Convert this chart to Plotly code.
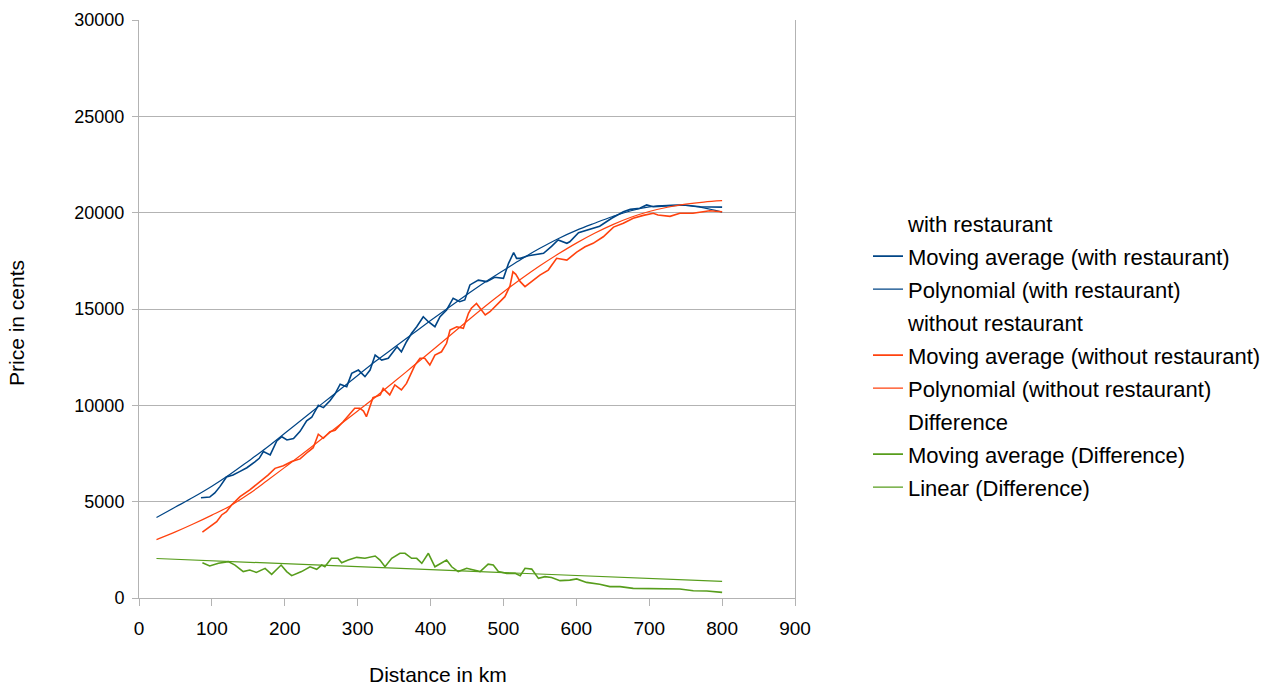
import plotly.graph_objects as go

BLUE = "#004586"
RED = "#ff420e"
GREEN = "#579d1c"

# ---- Moving average (with restaurant) ----
ma_with_km = [85, 97, 104, 111, 120, 129, 138, 148, 159, 165, 170.6, 175, 180, 189, 196, 203, 212, 221, 230,
              237, 246, 253, 262, 269, 276, 285, 291.8, 301, 310, 317, 324, 333, 342, 354, 360, 367, 374,
              381, 390, 397, 406, 413, 422, 431, 440, 447, 454, 465.5, 477, 488, 500, 507, 514, 518, 523,
              534, 541, 555, 566, 575, 587, 591, 603, 619, 632, 648.5, 664.5, 674, 687, 696.5, 705.6,
              724, 747, 770, 800]
ma_with_val = [5200, 5240, 5450, 5780, 6280, 6380, 6560, 6760, 7060, 7250, 7600, 7510, 7430, 8150, 8370,
               8200, 8280, 8650, 9200, 9380, 10000, 9880, 10240, 10600, 11100, 10970, 11660, 11830, 11490,
               11830, 12610, 12350, 12440, 13040, 12780, 13300, 13740, 14080, 14600, 14340, 14080, 14600,
               14950, 15560, 15380, 15470, 16250, 16500, 16420, 16650, 16590, 17370, 17930, 17630, 17630,
               17760, 17800, 17890, 18250, 18580, 18410, 18490, 18960, 19140, 19300, 19710, 20050, 20170,
               20230, 20400, 20310, 20350, 20400, 20310, 20290]

# ---- Polynomial (with restaurant) ----
poly_with_km = [24, 50, 75, 100, 125, 150, 175, 200, 225, 250, 275, 300, 325, 350, 375, 400, 425, 450,
                475, 500, 525, 550, 575, 600, 625, 650, 675, 700, 725, 750, 775, 800]
poly_with_val = [4180, 4720, 5240, 5800, 6420, 7100, 7800, 8550, 9300, 10050, 10800, 11550, 12300, 13000,
                 13700, 14400, 15080, 15750, 16400, 17000, 17600, 18150, 18650, 19080, 19450, 19800, 20100,
                 20300, 20380, 20380, 20250, 20030]

# ---- Moving average (without restaurant) ----
ma_without_km = [87, 99.7, 106.6, 113.4, 120, 127, 138.6, 152, 166, 177, 186.6, 198, 209.5, 221, 232, 239,
                 246, 253, 262, 269, 280, 289.5, 296, 303, 308, 312, 321, 331, 335, 344, 351, 360, 367,
                 378.6, 385.5, 392, 399, 406, 415, 422, 426.7, 436, 445, 452, 456, 463, 468, 475, 481.5,
                 493, 502, 509, 513, 517, 523, 529.6, 539, 550, 561.5, 573, 587, 600.5, 612, 623, 637, 651,
                 664.5, 678, 692, 705.6, 712, 728.5, 742, 760, 783, 800]
ma_without_val = [3420, 3790, 3960, 4310, 4480, 4830, 5260, 5610, 6040, 6380, 6730, 6860, 7080, 7220, 7590,
                  7800, 8500, 8290, 8630, 8700, 9150, 9600, 9850, 9850, 9700, 9410, 10400, 10540, 10880,
                  10540, 11060, 10800, 11140, 12090, 12440, 12440, 12090, 12610, 12780, 13220, 13910, 14080,
                  14000, 14780, 15040, 15290, 15040, 14690, 14860, 15290, 15640, 16200, 16930, 16800, 16420,
                  16160, 16420, 16760, 17020, 17630, 17540, 17950, 18230, 18410, 18750, 19250, 19450, 19710,
                  19860, 19970, 19880, 19810, 19970, 19970, 20100, 20050]

# ---- Polynomial (without restaurant) ----
poly_without_km = [24, 50, 75, 100, 125, 150, 175, 200, 225, 250, 275, 300, 325, 350, 375, 400, 425, 450,
                   475, 500, 525, 550, 575, 600, 625, 650, 675, 700, 725, 750, 775, 800]
poly_without_val = [3030, 3430, 3850, 4300, 4780, 5380, 6070, 6780, 7500, 8240, 8980, 9710, 10450, 11220,
                    12000, 12780, 13570, 14360, 15140, 15880, 16580, 17240, 17850, 18420, 18930, 19380,
                    19760, 20060, 20280, 20440, 20550, 20620]

# ---- Moving average (Difference) ----
ma_diff_km = [87, 97, 109, 122.5, 131.7, 143, 152, 161, 173, 182, 195, 202.6, 209.5, 223, 234.6, 243.8,
              250.6, 255, 264, 273, 278, 287, 298.7, 310, 324, 330.6, 337.5, 346.7, 358, 365, 374, 381, 388,
              397, 406, 415, 422, 429, 438, 449.6, 458.6, 468, 479, 486, 493, 504.5, 516, 523, 529.6,
              538.8, 548, 557, 566, 577.6, 591, 600.5, 614, 632, 646, 660, 678, 696.5, 715, 726, 742,
              760.5, 779, 800]
ma_diff_val = [1830, 1660, 1800, 1890, 1710, 1370, 1450, 1330, 1540, 1230, 1710, 1370, 1160, 1370, 1620,
               1490, 1710, 1620, 2060, 2060, 1830, 1970, 2110, 2060, 2180, 1970, 1620, 2060, 2320, 2320,
               2060, 2060, 1800, 2320, 1620, 1800, 1970, 1620, 1370, 1540, 1450, 1370, 1760, 1710, 1370,
               1280, 1280, 1160, 1540, 1500, 1020, 1110, 1060, 900, 930, 990, 810, 710, 590, 590, 500, 500,
               470, 500, 470, 380, 360, 290]

# ---- Linear (Difference) ----
lin_diff_km = [24, 800]
lin_diff_val = [2050, 860]

FONT = "Liberation Sans, Arial, sans-serif"

# page geometry (pixels)
W, H = 1281, 686
ML, MT, MB, MR = 139, 20, 88, 0
PLOT_RIGHT = 795
PW = W - ML - MR
PH = H - MT - MB


def px_x(p):
    return (p - ML) / PW


def px_y(p):
    return (H - MB - p) / PH


fig = go.Figure()


def header(name, grp):
    fig.add_trace(go.Scatter(x=[None], y=[None], mode="lines", name=name, legendgroup=grp,
                             line=dict(color="rgba(0,0,0,0)", width=0), hoverinfo="skip"))


header("with restaurant", "g1")
fig.add_trace(go.Scatter(x=ma_with_km, y=ma_with_val, mode="lines", name="Moving average (with restaurant)",
                         legendgroup="g2", line=dict(color=BLUE, width=1.6)))
fig.add_trace(go.Scatter(x=poly_with_km, y=poly_with_val, mode="lines", name="Polynomial (with restaurant)",
                         legendgroup="g3", line=dict(color=BLUE, width=1.2, shape="spline")))
header("without restaurant", "g4")
fig.add_trace(go.Scatter(x=ma_without_km, y=ma_without_val, mode="lines",
                         name="Moving average (without restaurant)", legendgroup="g5",
                         line=dict(color=RED, width=1.6)))
fig.add_trace(go.Scatter(x=poly_without_km, y=poly_without_val, mode="lines",
                         name="Polynomial (without restaurant)", legendgroup="g6",
                         line=dict(color=RED, width=1.2, shape="spline")))
header("Difference", "g7")
fig.add_trace(go.Scatter(x=ma_diff_km, y=ma_diff_val, mode="lines", name="Moving average (Difference)",
                         legendgroup="g8", line=dict(color=GREEN, width=1.6)))
fig.add_trace(go.Scatter(x=lin_diff_km, y=lin_diff_val, mode="lines", name="Linear (Difference)",
                         legendgroup="g9", line=dict(color=GREEN, width=1.2)))

fig.update_layout(
    width=W, height=H,
    margin=dict(l=ML, r=MR, t=MT, b=MB, autoexpand=False),
    paper_bgcolor="white", plot_bgcolor="white",
    font=dict(family=FONT, color="black", size=18),
    showlegend=True,
    legend=dict(x=px_x(868), xanchor="left", y=0.6845, yanchor="top", traceorder="grouped",
                tracegroupgap=1.4, font=dict(size=22, family=FONT, color="black"),
                bgcolor="rgba(0,0,0,0)"),
    xaxis=dict(domain=[0, (PLOT_RIGHT - ML) / PW], range=[0, 900], tick0=0, dtick=100, showgrid=False,
               zeroline=False, automargin=False,
               showline=True, linecolor="#b3b3b3", linewidth=1, ticks="outside", ticklen=7,
               tickcolor="#b3b3b3", ticklabelstandoff=6,
               tickfont=dict(size=19, family=FONT, color="black")),
    yaxis=dict(range=[0, 30000], tick0=0, dtick=5000, tickformat="d", showgrid=True, automargin=False,
               gridcolor="#b3b3b3", gridwidth=1, zeroline=False, showline=True, mirror=True,
               linecolor="#b3b3b3", linewidth=1, ticks="outside", ticklen=6, tickcolor="#b3b3b3",
               ticklabelstandoff=4, tickfont=dict(size=18, family=FONT, color="black")),
    annotations=[
        dict(text="Distance in km", xref="paper", yref="paper", x=px_x(438),
             y=px_y(674), xanchor="center", yanchor="middle", showarrow=False,
             font=dict(size=21, family=FONT, color="black")),
        dict(text="Price in cents", xref="paper", yref="paper", x=px_x(17),
             y=px_y(323), xanchor="center", yanchor="middle", textangle=-90,
             showarrow=False, font=dict(size=21, family=FONT, color="black")),
    ],
)

fig.write_html("out.html", config={"displayModeBar": False},
               post_script="document.body.style.margin='0';")
